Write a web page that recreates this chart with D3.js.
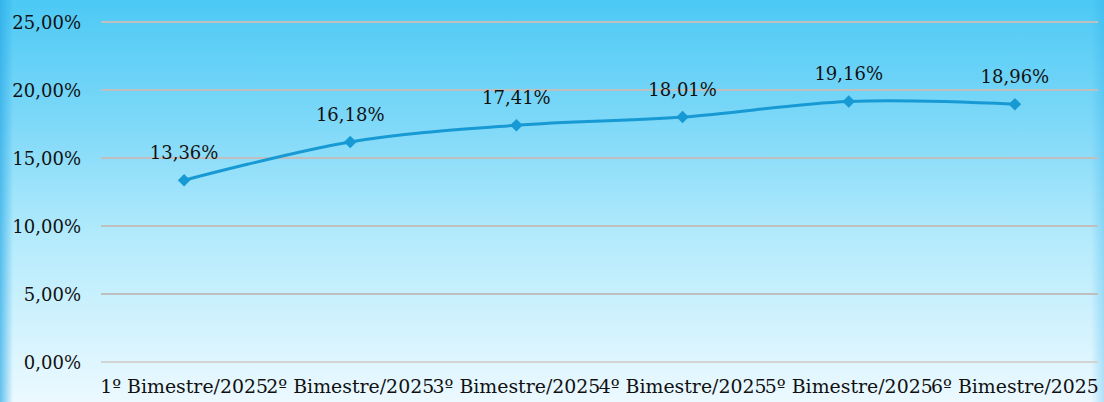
<!DOCTYPE html>
<html>
<head>
<meta charset="utf-8">
<script src="https://cdn.jsdelivr.net/npm/d3@7"></script>
<style>
  body { margin: 0; }
  svg { display: block; font-family: "DejaVu Serif", serif; }
</style>
</head>
<body>
<svg id="chart" width="1104" height="402"></svg>
<script>
// data
var categories = ['1º Bimestre/2025', '2º Bimestre/2025', '3º Bimestre/2025',
                  '4º Bimestre/2025', '5º Bimestre/2025', '6º Bimestre/2025'];
var values = [13.36, 16.18, 17.41, 18.01, 19.16, 18.96];
var yTicks = [0, 5, 10, 15, 20, 25];

var W = 1104, H = 402;
var margin = { top: 22, right: 6, bottom: 40, left: 101 };

var svg = d3.select('#chart');
var defs = svg.append('defs');

var bg = defs.append('linearGradient').attr('id', 'bg')
  .attr('x1', 0).attr('y1', 0).attr('x2', 0).attr('y2', 1);
bg.append('stop').attr('offset', '0%').attr('stop-color', '#4cc9f5');
bg.append('stop').attr('offset', '30%').attr('stop-color', '#7dd8f8');
bg.append('stop').attr('offset', '60%').attr('stop-color', '#b5ebfc');
bg.append('stop').attr('offset', '100%').attr('stop-color', '#ecf9ff');

var side = defs.append('linearGradient').attr('id', 'side')
  .attr('x1', 0).attr('y1', 0).attr('x2', 1).attr('y2', 0);
side.append('stop').attr('offset', '0%').attr('stop-color', '#2aa9e6').attr('stop-opacity', 0.7);
side.append('stop').attr('offset', '1.2%').attr('stop-color', '#2aa9e6').attr('stop-opacity', 0);
side.append('stop').attr('offset', '98.8%').attr('stop-color', '#2aa9e6').attr('stop-opacity', 0);
side.append('stop').attr('offset', '100%').attr('stop-color', '#2aa9e6').attr('stop-opacity', 0.3);

svg.append('rect').attr('width', W).attr('height', H).attr('fill', 'url(#bg)');
svg.append('rect').attr('width', W).attr('height', H).attr('fill', 'url(#side)');

var x = d3.scaleBand()
  .domain(categories)
  .range([margin.left, W - margin.right]);

var y = d3.scaleLinear()
  .domain([0, 25])
  .range([H - margin.bottom, margin.top]);

// gridlines
svg.append('g')
  .selectAll('line')
  .data(yTicks)
  .enter()
  .append('line')
  .attr('x1', margin.left)
  .attr('x2', W - margin.right)
  .attr('y1', d => y(d))
  .attr('y2', d => y(d))
  .attr('stroke', d => d === 0 ? '#d4d4d4' : '#bfbfbf')
  .attr('stroke-width', 2);

// y labels
var yAxis = d3.axisLeft(y)
  .tickValues(yTicks)
  .tickSize(0)
  .tickPadding(0)
  .tickFormat(d => d3.format('.2f')(d).replace('.', ',') + '%');

svg.append('g')
  .attr('transform', 'translate(81,0)')
  .call(yAxis)
  .call(g => g.select('.domain').remove())
  .selectAll('text')
  .attr('font-family', '"DejaVu Serif", serif')
  .attr('font-size', 18)
  .attr('fill', '#111')
  .attr('dy', '0.35em');

// x labels
var xAxis = d3.axisBottom(x).tickSize(0).tickPadding(0);
svg.append('g')
  .attr('transform', 'translate(0,' + (H - margin.bottom) + ')')
  .call(xAxis)
  .call(g => g.select('.domain').remove())
  .selectAll('text')
  .attr('font-family', '"DejaVu Serif", serif')
  .attr('font-size', 18.9)
  .attr('fill', '#111')
  .attr('dy', null)
  .attr('y', 31);

// line
var pts = values.map((v, i) => ({ cat: categories[i], v: v }));
var line = d3.line()
  .x(d => x(d.cat) + x.bandwidth() / 2)
  .y(d => y(d.v))
  .curve(d3.curveCatmullRom.alpha(0.5));

svg.append('path')
  .datum(pts)
  .attr('d', line)
  .attr('fill', 'none')
  .attr('stroke', '#1799d4')
  .attr('stroke-width', 3);

svg.append('g')
  .selectAll('path')
  .data(pts)
  .enter()
  .append('path')
  .attr('d', d3.symbol().type(d3.symbolDiamond2).size(100))
  .attr('transform', d => 'translate(' + (x(d.cat) + x.bandwidth() / 2) + ',' + y(d.v) + ')')
  .attr('fill', '#1799d4');

// value labels
svg.append('g')
  .selectAll('text')
  .data(pts)
  .enter()
  .append('text')
  .attr('x', d => x(d.cat) + x.bandwidth() / 2)
  .attr('y', d => y(d.v) - 21)
  .attr('text-anchor', 'middle')
  .attr('font-size', 18)
  .attr('fill', '#111')
  .text(d => d3.format('.2f')(d.v).replace('.', ',') + '%');
</script>
</body>
</html>
